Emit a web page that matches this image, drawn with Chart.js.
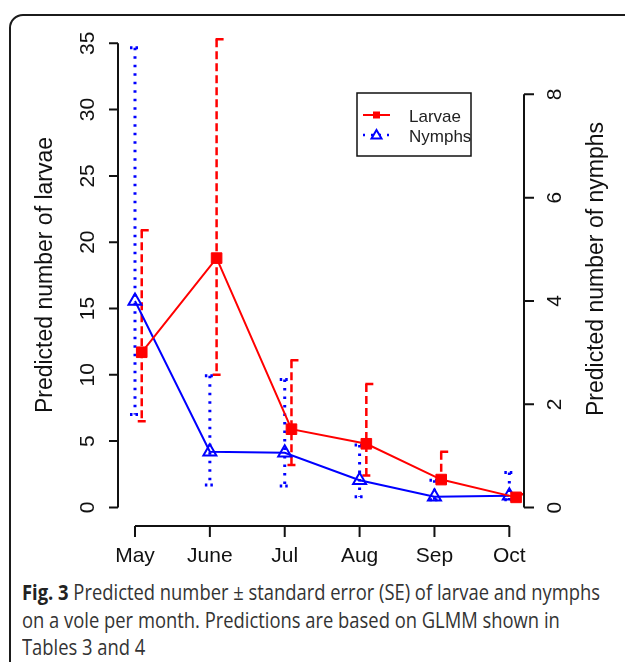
<!DOCTYPE html>
<html>
<head>
<meta charset="utf-8">
<script src="https://cdn.jsdelivr.net/npm/chart.js@4.4.1/dist/chart.umd.min.js"></script>
<style>
html, body { margin: 0; padding: 0; background: #fff; width: 625px; height: 662px; overflow: hidden; }
#frame { position: absolute; left: 9px; top: 14px; width: 720px; height: 720px; border: 2.5px solid #1b1b1b; border-top-left-radius: 14px; box-sizing: border-box; }
#wrap { position: absolute; left: 0; top: 0; width: 625px; height: 570px; }
#caption { position: absolute; left: 22px; top: 579px; font-family: 'Open Sans', sans-serif; font-size: 21px; line-height: 27.5px; color: #333; transform-origin: 0 0; white-space: nowrap; }
#caption div { width: max-content; }
#caption b { color: #222; }
</style>
</head>
<body>
<div id="frame"></div>
<div id="wrap"><canvas id="c" width="625" height="570"></canvas></div>
<div id="caption">
  <div id="cap1"><b>Fig. 3</b> Predicted number ± standard error (SE) of larvae and nymphs</div>
  <div>on a vole per month. Predictions are based on GLMM shown in</div>
  <div>Tables 3 and 4</div>
</div>
<script>
// values
const months = ['May', 'June', 'Jul', 'Aug', 'Sep', 'Oct'];
const larvae   = [11.7, 18.8, 5.9, 4.8, 2.1, 0.76];
const larvaeLo = [6.5, 10.0, 3.2, 2.4, 1.9, 0.55];
const larvaeHi = [20.9, 35.3, 11.1, 9.3, 4.2, 1.0];
const nymphs   = [4.0, 1.08, 1.06, 0.53, 0.21, 0.23];
const nymphsLo = [1.8, 0.44, 0.42, 0.21, 0.15, 0.15];
const nymphsHi = [8.9, 2.55, 2.48, 1.21, 0.53, 0.68];
const larvaeTicks = [0, 5, 10, 15, 20, 25, 30, 35];
const nymphTicks = [0, 2, 4, 6, 8];

const RED = '#ff0000', BLUE = '#0000ff', INK = '#111';
const FONT = '"Liberation Sans", Arial, sans-serif';
const larvaeShift = 0.09; // larvae drawn slightly right of the month

const errorBars = {
  id: 'errorBars',
  beforeDatasetsDraw(chart) {
    const ctx = chart.ctx;
    const xs = chart.scales.x;
    ctx.save();
    chart.data.datasets.forEach((ds) => {
      const ys = chart.scales[ds.yAxisID];
      ds.data.forEach((p, i) => {
        const x = xs.getPixelForValue(p.x);
        const yT = ys.getPixelForValue(ds.hi[i]);
        const yB = ys.getPixelForValue(ds.lo[i]);
        ctx.strokeStyle = ds.borderColor;
        if (ds.label === 'Larvae') {
          ctx.lineWidth = 2.5;
          ctx.setLineDash([8, 4]);
          ctx.beginPath(); ctx.moveTo(x, yT); ctx.lineTo(x, yB); ctx.stroke();
          ctx.setLineDash([]);
          ctx.beginPath();
          ctx.moveTo(x - 1, yT); ctx.lineTo(x + 7, yT);
          ctx.moveTo(x - 4, yB); ctx.lineTo(x + 4, yB);
          ctx.stroke();
        } else {
          ctx.lineWidth = 3;
          ctx.setLineDash([2.5, 6]);
          ctx.beginPath(); ctx.moveTo(x, yT); ctx.lineTo(x, yB); ctx.stroke();
          ctx.setLineDash([2.5, 3]);
          ctx.beginPath();
          ctx.moveTo(x - 5, yT); ctx.lineTo(x + 6, yT);
          ctx.moveTo(x - 5, yB); ctx.lineTo(x + 6, yB);
          ctx.stroke();
        }
      });
    });
    ctx.restore();
  }
};

const rAxes = {
  id: 'rAxes',
  afterDraw(chart) {
    const ctx = chart.ctx;
    const a = chart.chartArea;
    const xs = chart.scales.x, yl = chart.scales.y, yr = chart.scales.y2;
    ctx.save();
    ctx.strokeStyle = INK;
    ctx.fillStyle = INK;
    ctx.lineWidth = 2;
    ctx.setLineDash([]);

    // left axis
    ctx.beginPath();
    ctx.moveTo(a.left, yl.getPixelForValue(larvaeTicks[0]));
    ctx.lineTo(a.left, yl.getPixelForValue(larvaeTicks[larvaeTicks.length - 1]));
    larvaeTicks.forEach(v => {
      const y = yl.getPixelForValue(v);
      ctx.moveTo(a.left, y); ctx.lineTo(a.left - 9, y);
    });
    // right axis
    ctx.moveTo(a.right, yr.getPixelForValue(nymphTicks[0]));
    ctx.lineTo(a.right, yr.getPixelForValue(nymphTicks[nymphTicks.length - 1]));
    nymphTicks.forEach(v => {
      const y = yr.getPixelForValue(v);
      ctx.moveTo(a.right, y); ctx.lineTo(a.right + 10, y);
    });
    // bottom axis
    ctx.moveTo(xs.getPixelForValue(1), a.bottom);
    ctx.lineTo(xs.getPixelForValue(months.length), a.bottom);
    months.forEach((m, i) => {
      const x = xs.getPixelForValue(i + 1);
      ctx.moveTo(x, a.bottom); ctx.lineTo(x, a.bottom + 11);
    });
    ctx.stroke();

    ctx.font = '21px ' + FONT;
    ctx.textAlign = 'center';
    ctx.textBaseline = 'middle';
    const rot = (txt, x, y) => {
      ctx.save(); ctx.translate(x, y); ctx.rotate(-Math.PI / 2); ctx.fillText(txt, 0, 0); ctx.restore();
    };
    larvaeTicks.forEach(v => rot(String(v), a.left - 30, yl.getPixelForValue(v)));
    nymphTicks.forEach(v => rot(String(v), a.right + 31, yr.getPixelForValue(v)));
    months.forEach((m, i) => ctx.fillText(m, xs.getPixelForValue(i + 1), a.bottom + 30));

    ctx.font = '23px ' + FONT;
    rot('Predicted number of larvae', 46, 275);
    rot('Predicted number of nymphs', 597, 269);
    ctx.restore();
  }
};

const boxLegend = {
  id: 'boxLegend',
  afterDraw(chart) {
    const ctx = chart.ctx;
    const bx = 357, by = 93, bw = 114, bh = 63;
    ctx.save();
    ctx.strokeStyle = INK;
    ctx.lineWidth = 1.5;
    ctx.strokeRect(bx, by, bw, bh);
    const rows = [by + 22, by + 42];
    chart.data.datasets.forEach((ds, k) => {
      const y = rows[k];
      ctx.strokeStyle = ds.borderColor;
      ctx.lineWidth = 2;
      if (ds.label === 'Larvae') {
        ctx.setLineDash([]);
        ctx.beginPath(); ctx.moveTo(bx + 6, y); ctx.lineTo(bx + 33, y); ctx.stroke();
        ctx.fillStyle = ds.borderColor;
        ctx.fillRect(bx + 16, y - 3.5, 7, 7);
      } else {
        ctx.setLineDash([2, 6]);
        ctx.lineWidth = 2.5;
        ctx.beginPath(); ctx.moveTo(bx + 6, y); ctx.lineTo(bx + 33, y); ctx.stroke();
        ctx.setLineDash([]);
        ctx.lineWidth = 2;
        ctx.beginPath();
        ctx.moveTo(bx + 19.5, y - 5); ctx.lineTo(bx + 24.5, y + 3.5); ctx.lineTo(bx + 14.5, y + 3.5); ctx.closePath();
        ctx.fillStyle = '#fff'; ctx.fill(); ctx.stroke();
      }
      ctx.fillStyle = '#222';
      ctx.font = '17px ' + FONT;
      ctx.textAlign = 'left';
      ctx.textBaseline = 'middle';
      ctx.fillText(ds.label, bx + 52, y + 2);
    });
    ctx.restore();
  }
};

new Chart(document.getElementById('c'), {
  type: 'line',
  data: {
    datasets: [
      {
        label: 'Larvae',
        data: months.map((m, i) => ({ x: i + 1 + larvaeShift, y: larvae[i] })),
        lo: larvaeLo, hi: larvaeHi,
        yAxisID: 'y',
        borderColor: RED, backgroundColor: RED,
        borderWidth: 2, tension: 0, clip: false,
        pointStyle: 'rect', pointRadius: 7.5, pointBorderWidth: 1,
        pointBackgroundColor: RED
      },
      {
        label: 'Nymphs',
        data: months.map((m, i) => ({ x: i + 1, y: nymphs[i] })),
        lo: nymphsLo, hi: nymphsHi,
        yAxisID: 'y2',
        borderColor: BLUE, backgroundColor: BLUE,
        borderWidth: 2, tension: 0, clip: false,
        pointStyle: 'triangle', pointRadius: 7.5, pointBorderWidth: 2,
        pointBackgroundColor: 'rgba(255,255,255,0)'
      }
    ]
  },
  options: {
    responsive: false,
    animation: false,
    devicePixelRatio: 1,
    layout: { padding: { left: 118, right: 101, top: 30, bottom: 44 } },
    plugins: { legend: { display: false }, tooltip: { enabled: false } },
    scales: {
      x: { type: 'linear', min: 0.773, max: 6.196, display: false },
      y: { min: -1.40, max: 36.0, display: false },
      y2: { position: 'right', min: -0.356, max: 9.245, display: false }
    }
  },
  plugins: [errorBars, rAxes, boxLegend]
});

// squeeze caption to the width it has in the figure
const cap = document.getElementById('caption');
const w = document.getElementById('cap1').getBoundingClientRect().width;
cap.style.transform = 'scaleX(' + (578 / w) + ')';
</script>
</body>
</html>
